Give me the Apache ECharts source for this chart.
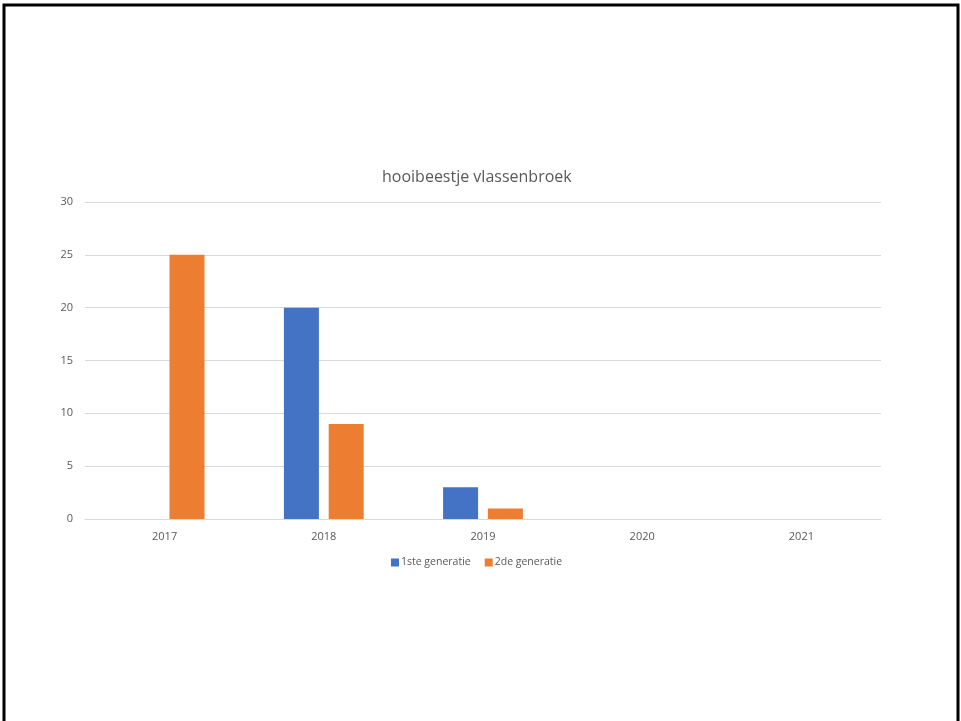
<!DOCTYPE html>
<html>
<head>
<meta charset="utf-8">
<script src="https://cdn.jsdelivr.net/npm/echarts@6/dist/echarts.min.js"></script>
<style>
html,body{margin:0;padding:0;background:#fff;}
#c{width:961px;height:721px;}
</style>
</head>
<body>
<div id="c"></div>
<script>
const categories = ['2017', '2018', '2019', '2020', '2021'];
const gen1 = [0, 20, 3, 0, 0];
const gen2 = [25, 9, 1, 0, 0];
const seriesNames = ['1ste generatie', '2de generatie'];
const yTicks = [0, 30, 5];

const chart = echarts.init(document.getElementById('c'), null, {renderer: 'canvas'});
const font = '"Open Sans", "Noto Sans", sans-serif';
chart.setOption({
  animation: false,
  backgroundColor: '#fff',
  textStyle: {fontFamily: font},
  graphic: [{
    type: 'rect',
    shape: {x: 4, y: 5, width: 954, height: 730},
    style: {fill: 'none', stroke: '#000', lineWidth: 3},
    silent: true
  }],
  title: {
    text: 'hooibeestje vlassenbroek',
    left: 377,
    top: 164,
    textStyle: {fontFamily: font, fontSize: 16, fontWeight: 'normal', color: '#595959'}
  },
  legend: {
    data: seriesNames,
    bottom: 148,
    left: 386,
    itemWidth: 8,
    itemHeight: 8,
    itemGap: 14,
    icon: 'rect',
    textStyle: {fontFamily: font, fontSize: 10.5, color: '#595959', padding: [0, 0, 0, -3]}
  },
  grid: {left: 85, right: 80, top: 202, bottom: 202, containLabel: false},
  xAxis: {
    type: 'category',
    data: categories,
    axisTick: {show: false},
    axisLine: {lineStyle: {color: '#d9d9d9', width: 1}},
    axisLabel: {color: '#595959', fontSize: 11, margin: 12, fontFamily: font}
  },
  yAxis: {
    type: 'value',
    min: yTicks[0],
    max: yTicks[1],
    interval: yTicks[2],
    axisLine: {show: false},
    axisTick: {show: false},
    splitLine: {lineStyle: {color: '#d9d9d9', width: 1}},
    axisLabel: {color: '#595959', fontSize: 11, margin: 12, fontFamily: font}
  },
  series: [
    {name: seriesNames[0], type: 'bar', data: gen1, barWidth: 35, barGap: '28%', itemStyle: {color: '#4472c4'}},
    {name: seriesNames[1], type: 'bar', data: gen2, barWidth: 35, barGap: '28%', itemStyle: {color: '#ed7d31'}}
  ]
});
</script>
</body>
</html>
